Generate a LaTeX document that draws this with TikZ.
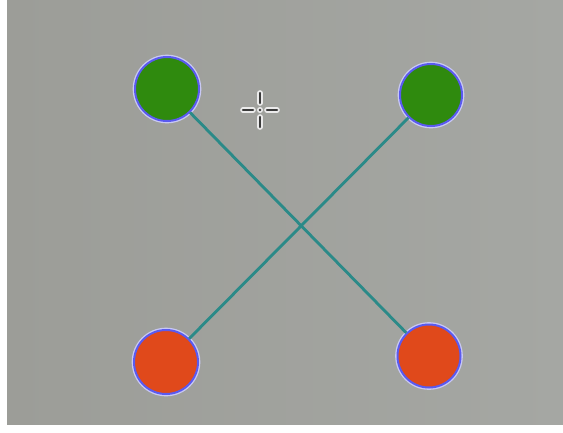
\documentclass[tikz,border=0pt]{standalone}
\usetikzlibrary{positioning, calc}
\definecolor{clrbg_left}{HTML}{9C9D98}
\definecolor{clrbg_right}{HTML}{A5A7A3}
\definecolor{clrgreen}{HTML}{2F8A0E}
\definecolor{clrred}{HTML}{E0491B}
\definecolor{clrring}{HTML}{5A5AF0}
\definecolor{clrhalo}{HTML}{C8C8F4}
\definecolor{clrwire}{HTML}{2B8A88}
\definecolor{clrcross}{HTML}{3A3A3A}

\begin{document}
\begin{tikzpicture}[
    x=0.3mm, y=-0.3mm,
    marker/.style={circle, inner sep=0, minimum size=64*0.3mm,
                   draw=clrring, line width=0.6mm,
                   preaction={draw=clrhalo, line width=1.4mm}},
    wire/.style={color=clrwire, line width=0.85mm},
    crossarm/.style={color=clrcross, line width=0.75mm, line cap=round,
                     preaction={draw=white!92!black, line width=1.7mm, line cap=round}},
]
\useasboundingbox (0,0) rectangle (563,432);
\fill[white] (0,0) rectangle (563,432);
\shade[left color=clrbg_left, right color=clrbg_right] (7,0) rectangle (563,424);
\node[marker, fill=clrgreen] (m_tl) at (167,89) {};
\node[marker, fill=clrgreen, minimum size=62*0.3mm] (m_tr) at (431,95) {};
\node[marker, fill=clrred] (m_bl) at (166,362) {};
\node[marker, fill=clrred, minimum size=63*0.3mm] (m_br) at (429,356) {};
\draw[wire] (m_tl) -- (m_br);
\draw[wire] (m_tr) -- (m_bl);
% crosshair
\coordinate (c_0) at (260,110);
\draw[crossarm] ($(c_0)+(0,-17)$) -- ($(c_0)+(0,-7)$);
\draw[crossarm] ($(c_0)+(0,7)$) -- ($(c_0)+(0,17)$);
\draw[crossarm] ($(c_0)+(-17,0)$) -- ($(c_0)+(-7,0)$);
\draw[crossarm] ($(c_0)+(7,0)$) -- ($(c_0)+(17,0)$);
\fill[white!92!black] (c_0) circle (0.9mm);
\fill[clrcross] (c_0) circle (0.4mm);
\end{tikzpicture}
\end{document}
